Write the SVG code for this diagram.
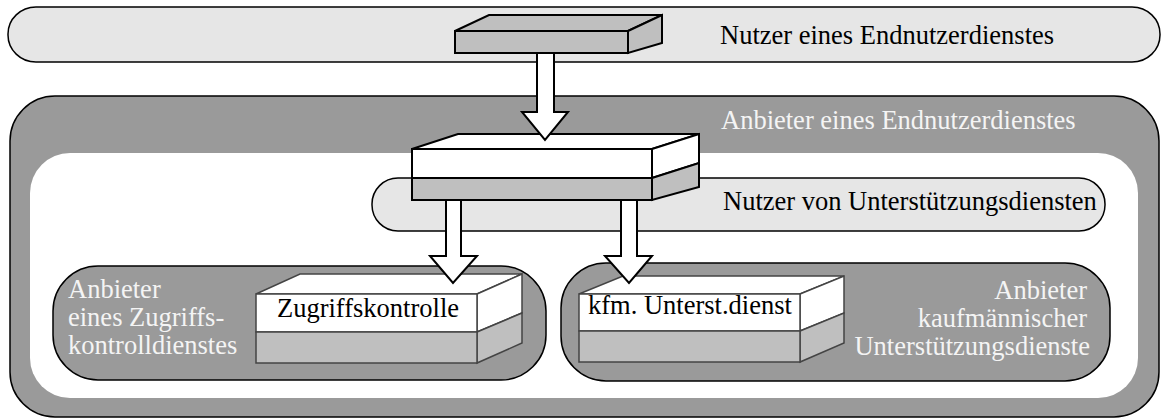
<svg xmlns="http://www.w3.org/2000/svg" width="1162" height="420" viewBox="0 0 1162 420">
  <style>
    text { font-family: "Liberation Serif", "Times New Roman", serif; font-size: 26.5px; }
    .dark { fill: #000; }
    .light { fill: #f4f4f4; }
    .pill-light { fill: #e6e6e6; stroke: #000; stroke-width: 1.5; }
    .pill-dark { fill: #9a9a9a; stroke: #000; stroke-width: 1.5; }
    .face-w { fill: #fff; }
    .face-g { fill: #bfbfbf; }
    .edge-k { stroke: #000; stroke-width: 2; stroke-linejoin: miter; }
    .edge-d { stroke: #444; stroke-width: 1.5; stroke-linejoin: miter; }
    .arrow { fill: #fff; stroke: #000; stroke-width: 2; stroke-linejoin: miter; }
  </style>

  <!-- outer layer: user of an end-user service -->
  <g id="nutzer-endnutzerdienst">
    <rect class="pill-light" x="8" y="7" width="1152" height="55" rx="28" ry="27"/>
    <text class="dark" x="720" y="44">Nutzer eines Endnutzerdienstes</text>
  </g>

  <!-- provider of the end-user service -->
  <g id="anbieter-endnutzerdienst">
    <rect class="pill-dark" x="10" y="96" width="1149" height="321" rx="45" ry="45"/>
    <rect x="30" y="153" width="1108" height="245" rx="40" ry="40" fill="#fff"/>
    <text class="light" x="721" y="129">Anbieter eines Endnutzerdienstes</text>
  </g>

  <!-- user of support services -->
  <g id="nutzer-unterstuetzung">
    <rect class="pill-light" x="372" y="178" width="733" height="53" rx="26" ry="26"/>
    <text class="dark" x="723" y="210">Nutzer von Unterstützungsdiensten</text>
  </g>

  <!-- access control provider -->
  <g id="anbieter-zugriffskontrolle">
    <rect class="pill-dark" x="53" y="266" width="493" height="114" rx="45" ry="45"/>
    <text class="light" x="68" y="298">Anbieter</text>
    <text class="light" x="68" y="326">eines Zugriffs-</text>
    <text class="light" x="68" y="354">kontrolldienstes</text>
  </g>

  <!-- commercial support provider -->
  <g id="anbieter-kaufmaennisch">
    <rect class="pill-dark" x="561" y="263" width="549" height="118" rx="45" ry="45"/>
    <text class="light" x="1087" y="299" text-anchor="end">Anbieter</text>
    <text class="light" x="1087" y="327" text-anchor="end">kaufmännischer</text>
    <text class="light" x="1090" y="355" text-anchor="end">Unterstützungsdienste</text>
  </g>

  <!-- end-user client block -->
  <g id="block-nutzer" class="edge-k">
    <polygon class="face-g" points="455,31 489,15 662,15 628,31"/>
    <polygon class="face-g" points="628,31 662,15 662,43 628,53"/>
    <rect class="face-g" x="455" y="31" width="173" height="22"/>
  </g>

  <!-- service block (provider / support user) -->
  <g id="block-dienst" class="edge-k">
    <polygon class="face-w" points="412,149 458,134 699,134 652,149"/>
    <polygon class="face-w" points="652,149 699,134 699,163 652,178"/>
    <polygon class="face-g" points="652,178 699,163 699,187 652,200"/>
    <rect class="face-w" x="412" y="149" width="240" height="29"/>
    <rect class="face-g" x="412" y="178" width="240" height="22"/>
  </g>

  <!-- access control block -->
  <g id="block-zugriffskontrolle" class="edge-d">
    <polygon class="face-w" points="256,294 300,274 522,274 477,294"/>
    <polygon class="face-w" points="477,294 522,274 522,313 477,332"/>
    <polygon class="face-g" points="477,332 522,313 522,343 477,363"/>
    <rect class="face-w" x="256" y="294" width="221" height="38"/>
    <rect class="face-g" x="256" y="332" width="221" height="31"/>
    <text class="dark" x="277" y="317" stroke="none">Zugriffskontrolle</text>
  </g>

  <!-- commercial support block -->
  <g id="block-kfm" class="edge-d">
    <polygon class="face-w" points="579,294 623,276 844,276 800,294"/>
    <polygon class="face-w" points="800,294 844,276 844,313 800,331"/>
    <polygon class="face-g" points="800,331 844,313 844,343 800,362"/>
    <rect class="face-w" x="579" y="294" width="221" height="37"/>
    <rect class="face-g" x="579" y="331" width="221" height="31"/>
    <text class="dark" x="588" y="314" stroke="none">kfm. Unterst.dienst</text>
  </g>

  <!-- service call arrows -->
  <g id="connectors">
    <polygon class="arrow" points="537,53 554,53 554,112 568,112 545,140 522,112 537,112"/>
    <polygon class="arrow" points="446,200 461,200 461,256 477,256 453,283 430,256 446,256"/>
    <polygon class="arrow" points="621,200 637,200 637,256 652,256 629,283 605,256 621,256"/>
  </g>
</svg>
